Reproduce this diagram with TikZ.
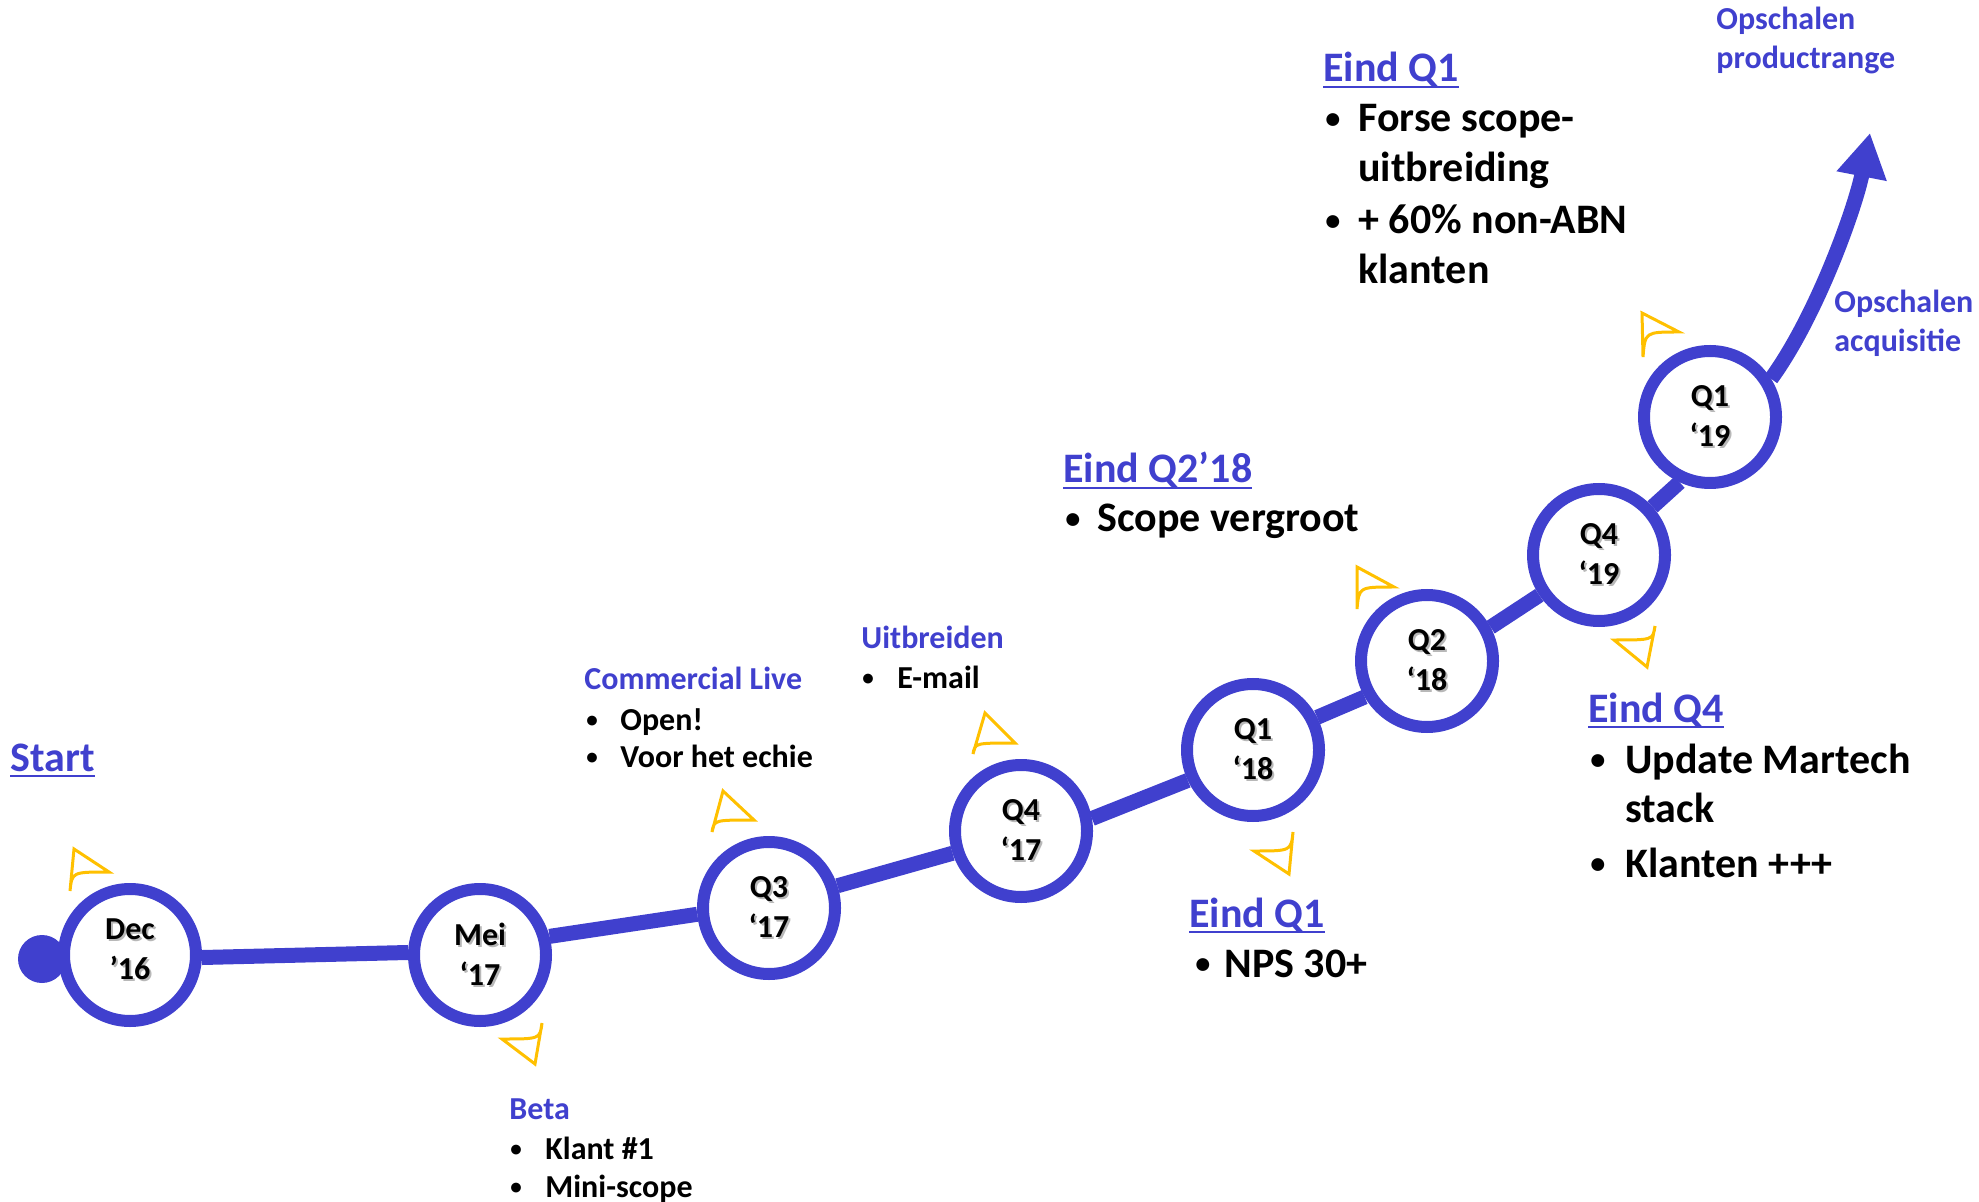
\documentclass[tikz,border=0pt]{standalone}
\usepackage{fontspec}
\setmainfont{Carlito}
\usetikzlibrary{arrows.meta,backgrounds}
\definecolor{tlblue}{RGB}{64,64,206}
\definecolor{tlgold}{RGB}{255,192,0}
\newcommand\myul[1]{\setbox0\hbox{#1}\rlap{\rule[-3.2pt]{\wd0}{1.2pt}}\box0}
\newcommand\shtext[1]{\rlap{\raisebox{-1pt}{\hspace{1pt}\textcolor{black!28}{#1}}}#1}
\newcommand\smbul{\raisebox{0.08em}{\scalebox{0.72}{•}}}
\newcommand\lowdp{\rule[-1pt]{0pt}{1pt}}
\begin{document}
\begin{tikzpicture}[x=0.5pt,y=-0.5pt,
  big/.style={font=\fontsize{21}{25}\selectfont\bfseries, anchor=base west, inner sep=0, text=black},
  bighead/.style={big, text=tlblue},
  med/.style={font=\fontsize{16}{19}\selectfont\bfseries, anchor=base west, inner sep=0, text=black},
  medhead/.style={med, text=tlblue},
  ms/.style={circle, draw=tlblue, line width=6pt, fill=white, minimum size=66pt, inner sep=0,
    font=\fontsize{16}{20}\selectfont\bfseries, align=center},
  track/.style={draw=tlblue, line width=7.5pt},
  marker/.style={draw=tlgold, line width=1.5pt}]
\useasboundingbox (0,0) rectangle (1979,1202);

% start dot and milestones
\node[circle, fill=tlblue, minimum size=24pt, inner sep=0] (startdot) at (42,959) {};
\node[ms] (dec)  at (130,955)  {\shtext{Dec}\\\shtext{’16}\strut};
\node[ms] (mei)  at (480,955)  {\shtext{Mei}\\\shtext{‘17}\lowdp};
\node[ms] (q317) at (769,908)  {\shtext{Q3}\\\shtext{‘17}\lowdp};
\node[ms] (q417) at (1021,831) {\shtext{Q4}\\\shtext{‘17}\lowdp};
\node[ms] (q118) at (1253,750) {\shtext{Q1}\\\shtext{‘18}\lowdp};
\node[ms] (q218) at (1427,661) {\shtext{Q2}\\\shtext{‘18}\lowdp};
\node[ms] (q419) at (1599,555) {\shtext{Q4}\\\shtext{‘19}\lowdp};
\node[ms] (q119) at (1710,417) {\shtext{Q1}\\\shtext{‘19}\lowdp};
\coordinate (tip) at (1870,133);

\begin{scope}[on background layer]
\draw[track] (dec.-2) -- (mei.178);
\draw[track] (mei.15) -- (q317.185);
\draw[track] (q317.18) -- (q417.198);
\draw[track] (q417.10) -- (q118.205);
\draw[track] (q118.27) -- (q218.210);
\draw[track] (q218.28) -- (q419.214);
\draw[track] (q419.42) -- (q119.245);
\draw[track, -{Triangle[length=22pt,width=24pt]}] (q119.32) .. controls (1818,314) and (1856,205) .. (tip);
\end{scope}

% yellow markers
\draw[marker] (74,849) -- (109,872) .. controls (72,872) .. (70,891) -- cycle;
\draw[marker] (723,791) -- (754,820) .. controls (714,820) .. (712,832) -- cycle;
\draw[marker] (985,713) -- (1015,743) .. controls (975,743) .. (973,754) -- cycle;
\draw[marker] (1357,567) -- (1394,587) .. controls (1359,587) .. (1357,609) -- cycle;
\draw[marker] (1642,313) -- (1679,332) .. controls (1645,332) .. (1643,357) -- cycle;
\draw[marker] (535,1064) -- (542,1023) .. controls (540,1039) .. (502,1039) -- cycle;
\draw[marker] (1289,874) -- (1293,832) .. controls (1291,851) .. (1254,851) -- cycle;
\draw[marker] (1647,667) -- (1655,626) .. controls (1653,640) .. (1614,640) -- cycle;

% Start
\node[bighead] (tstart) at (10,771) {\myul{Start}};

% Commercial Live
\node[medhead] (tcl) at (584,689) {Commercial Live};
\node[med] (bcl1) at (586,730) {\smbul};
\node[med] (tcl1) at (620,730) {Open!};
\node[med] (bcl2) at (586,767) {\smbul};
\node[med] (tcl2) at (620,767) {Voor het echie};

% Uitbreiden
\node[medhead] (tui) at (861,648) {Uitbreiden};
\node[med] (bui1) at (862,688) {\smbul};
\node[med] (tui1) at (897,688) {E-mail};

% Beta
\node[medhead] (tbeta) at (509,1119) {Beta};
\node[med] (bbe1) at (510,1159) {\smbul};
\node[med] (tbe1) at (545,1159) {Klant \#1};
\node[med] (bbe2) at (510,1197) {\smbul};
\node[med] (tbe2) at (545,1197) {Mini-scope};

% Eind Q1 (lower)
\node[bighead] (tq1a) at (1189,927) {\myul{Eind Q1}};
\node[big] (bq1a) at (1195,977) {\smbul};
\node[big] (tq1a1) at (1224,977) {NPS 30+};

% Eind Q2'18
\node[bighead] (tq2) at (1063,483) {\myul{Eind Q2’18}};
\node[big] (bq2) at (1065,532) {\smbul};
\node[big] (tq21) at (1097,532) {Scope vergroot};

% Eind Q4
\node[bighead] (tq4) at (1588,722) {\myul{Eind Q4}};
\node[big] (bq41) at (1590,773) {\smbul};
\node[big] (tq41) at (1625,773) {Update Martech};
\node[big] (tq41b) at (1625,822) {stack};
\node[big] (bq42) at (1590,877) {\smbul};
\node[big] (tq42) at (1625,877) {Klanten +++};

% Eind Q1 (top)
\node[bighead] (tq1b) at (1323,82) {\myul{Eind Q1}};
\node[big] (bq1b1) at (1325,132) {\smbul};
\node[big] (tq1b1) at (1358,132) {Forse scope-};
\node[big] (tq1b1b) at (1358,182) {uitbreiding};
\node[big] (bq1b2) at (1325,234) {\smbul};
\node[big] (tq1b2) at (1358,234) {+ 60\% non-ABN};
\node[big] (tq1b2b) at (1358,284) {klanten};

% Opschalen labels
\node[medhead] (top1) at (1716,30) {Opschalen};
\node[medhead] (top2) at (1716,69) {productrange};
\node[medhead] (tac1) at (1834,313) {Opschalen};
\node[medhead] (tac2) at (1834,352) {acquisitie};
\end{tikzpicture}
\end{document}
